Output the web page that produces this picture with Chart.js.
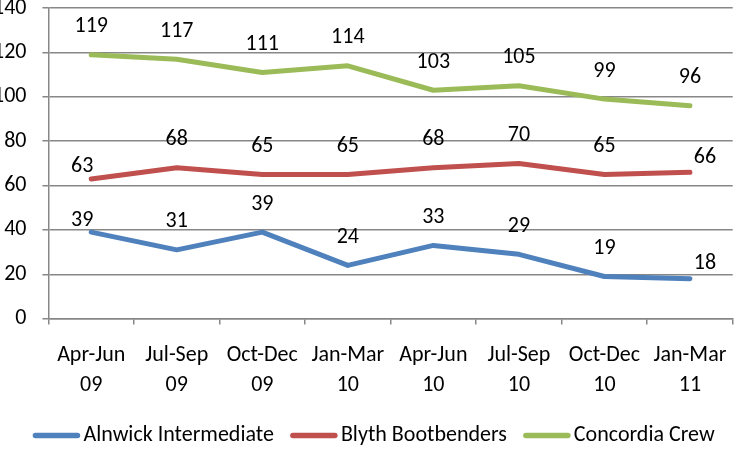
<!DOCTYPE html>
<html>
<head>
<meta charset="utf-8">
<script src="https://cdn.jsdelivr.net/npm/chart.js@4.4.0/dist/chart.umd.min.js"></script>
<style>
  html, body { margin: 0; padding: 0; background: #fff; overflow: hidden; }
  #wrap { position: relative; width: 743px; height: 452px; overflow: hidden; }
  #box { position: absolute; left: -23px; top: -21px; width: 766px; height: 477px; }
</style>
</head>
<body>
<div id="wrap"><div id="box"><canvas id="grafico"></canvas></div></div>
<script>
const trimestres = [["Apr-Jun", "09"], ["Jul-Sep", "09"], ["Oct-Dec", "09"], ["Jan-Mar", "10"],
                    ["Apr-Jun", "10"], ["Jul-Sep", "10"], ["Oct-Dec", "10"], ["Jan-Mar", "11"]];
const alnwick = [39, 31, 39, 24, 33, 29, 19, 18];
const blyth = [63, 68, 65, 65, 68, 70, 65, 66];
const concordia = [119, 117, 111, 114, 103, 105, 99, 96];
const yMin = 0, yMax = 140, yStep = 20;

const fonte = "Carlito, 'Liberation Sans Narrow', 'Open Sans', sans-serif";

// rótulos de dados: acima do ponto; nas séries marcadas, o primeiro vai para a esquerda e o último para a direita
const rotulos = {
    id: "rotulos",
    afterDatasetsDraw(chart) {
        const ctx = chart.ctx;
        ctx.save();
        ctx.font = "22px " + fonte;
        ctx.fillStyle = "#000";
        ctx.textBaseline = "middle";
        ctx.textAlign = "center";
        chart.data.datasets.forEach((ds, i) => {
            const meta = chart.getDatasetMeta(i);
            meta.data.forEach((pt, j) => {
                const ultimo = meta.data.length - 1;
                let dx = 0, dy = -28;
                if (ds.rotuloNasPontas && j === 0) { dx = -9; dy = -12; }
                if (ds.rotuloNasPontas && j === ultimo) { dx = 15; dy = -15; }
                ctx.fillText(String(ds.data[j]), pt.x + dx, pt.y + dy);
            });
        });
        ctx.restore();
    }
};

// legenda desenhada à mão, linha grossa + texto, abaixo do eixo x
const legenda = {
    id: "legenda",
    afterDraw(chart) {
        const ctx = chart.ctx;
        const area = chart.chartArea;
        let x = area.left - 15;
        const y = area.bottom + 117;
        ctx.save();
        ctx.font = "22px " + fonte;
        ctx.textBaseline = "middle";
        ctx.textAlign = "left";
        chart.data.datasets.forEach(ds => {
            ctx.strokeStyle = ds.borderColor;
            ctx.lineWidth = 5.5;
            ctx.lineCap = "round";
            ctx.beginPath();
            ctx.moveTo(x + 2, y);
            ctx.lineTo(x + 44, y);
            ctx.stroke();
            x += 50;
            ctx.fillStyle = "#000";
            ctx.fillText(ds.label, x, y);
            x += ctx.measureText(ds.label).width + 17;
        });
        ctx.restore();
    }
};

function serie(nome, dados, cor, pontas) {
    return {
        label: nome,
        data: dados,
        borderColor: cor,
        backgroundColor: cor,
        borderWidth: 5,
        borderCapStyle: "round",
        borderJoinStyle: "round",
        tension: 0,
        pointRadius: 0,
        fill: false,
        rotuloNasPontas: pontas
    };
}

const ctx = document.getElementById("grafico").getContext("2d");
new Chart(ctx, {
    type: "line",
    data: {
        labels: trimestres,
        datasets: [
            serie("Alnwick Intermediate", alnwick, "#4F81BD", true),
            serie("Blyth Bootbenders", blyth, "#C0504D", true),
            serie("Concordia Crew", concordia, "#9BBB59", false)
        ]
    },
    options: {
        responsive: true,
        maintainAspectRatio: false,
        animation: false,
        layout: { padding: { left: 0, right: 10, top: 0, bottom: 40 } },
        scales: {
            x: {
                offset: true,
                grid: { offset: true, drawOnChartArea: false, drawTicks: true, tickLength: 6, color: "#878787", lineWidth: 1.5 },
                border: { color: "#878787", width: 1.5 },
                ticks: { color: "#000", font: { family: fonte, size: 22, lineHeight: 1.35 }, padding: 16, maxRotation: 0, autoSkip: false }
            },
            y: {
                min: yMin,
                max: yMax,
                grid: { color: "#878787", lineWidth: 1.5, tickLength: 6 },
                border: { color: "#878787", width: 1.5 },
                ticks: { stepSize: yStep, color: "#000", font: { family: fonte, size: 22 }, padding: 16 }
            }
        },
        plugins: {
            legend: { display: false },
            tooltip: { enabled: false }
        }
    },
    plugins: [rotulos, legenda]
});
</script>
</body>
</html>
